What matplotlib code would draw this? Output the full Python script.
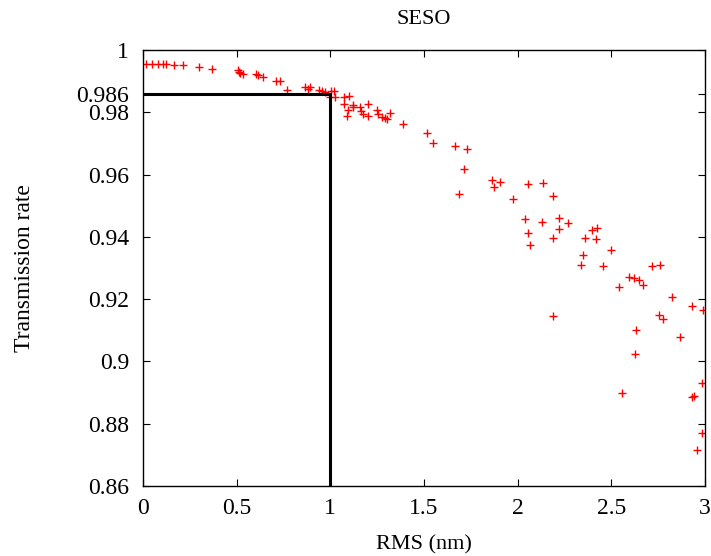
import numpy as np
import matplotlib
matplotlib.use("Agg")
import matplotlib.pyplot as plt

# RMS (nm) and transmission rate
rms = [0.016, 0.046, 0.082, 0.105, 0.122, 0.167, 0.216, 0.298, 0.371,
       0.505, 0.512, 0.520, 0.536, 0.605, 0.613, 0.638, 0.709, 0.729,
       0.770, 0.865, 0.879, 0.892, 0.941, 0.954, 0.973, 1.002, 1.018,
       1.000, 1.023, 1.074, 1.097, 1.073, 1.096, 1.119, 1.122, 1.089,
       1.158, 1.165, 1.172, 1.202, 1.200, 1.248, 1.255, 1.278, 1.291,
       1.305, 1.317, 1.387, 1.514, 1.548, 1.666, 1.732, 1.716, 1.865,
       1.876, 1.908, 1.686, 1.973, 2.055, 2.041, 2.137, 2.188, 2.055,
       2.067, 2.129, 2.218, 2.218, 2.188, 2.270, 2.358, 2.395, 2.426,
       2.417, 2.349, 2.337, 2.454, 2.500, 2.592, 2.621, 2.645, 2.669,
       2.541, 2.716, 2.757, 2.826, 2.933, 2.991, 2.755, 2.775, 2.190,
       2.632, 2.865, 2.628, 2.986, 2.557, 2.929, 2.943, 2.986, 2.956]
trans = [0.9956, 0.9956, 0.9956, 0.9956, 0.9954, 0.9953, 0.9951, 0.9947, 0.9940,
         0.9935, 0.9930, 0.9926, 0.9923, 0.9922, 0.9919, 0.9914, 0.9900, 0.9899,
         0.9871, 0.9881, 0.9876, 0.9881, 0.9873, 0.9867, 0.9864, 0.9867, 0.9869,
         0.9850, 0.9848, 0.9848, 0.9851, 0.9826, 0.9808, 0.9824, 0.9818, 0.9788,
         0.9816, 0.9805, 0.9795, 0.9826, 0.9789, 0.9808, 0.9793, 0.9785, 0.9782,
         0.9777, 0.9797, 0.9762, 0.9734, 0.9702, 0.9692, 0.9683, 0.9617, 0.9584,
         0.9561, 0.9575, 0.9538, 0.9521, 0.9571, 0.9458, 0.9574, 0.9530, 0.9412,
         0.9374, 0.9447, 0.9461, 0.9426, 0.9395, 0.9445, 0.9398, 0.9421, 0.9427,
         0.9394, 0.9343, 0.9309, 0.9307, 0.9357, 0.9270, 0.9268, 0.9263, 0.9247,
         0.9240, 0.9306, 0.9309, 0.9207, 0.9178, 0.9165, 0.9150, 0.9137, 0.9146,
         0.9100, 0.9080, 0.9025, 0.8932, 0.8900, 0.8887, 0.8890, 0.8770, 0.8716]

# marked level
x_mark = 1.0
y_mark = 0.986

yticks = [0.86, 0.88, 0.9, 0.92, 0.94, 0.96, 0.98, 0.986, 1.0]
ytick_labels = ["0.86", "0.88", "0.9", "0.92", "0.94", "0.96", "0.98", "0.986", "1"]
xticks = [0, 0.5, 1, 1.5, 2, 2.5, 3]
xtick_labels = ["0", "0.5", "1", "1.5", "2", "2.5", "3"]

plt.rcParams['font.family'] = ['Liberation Serif', 'DejaVu Serif']
plt.rcParams['font.size'] = 17

fig = plt.figure(figsize=(7.11, 5.56), dpi=100)
ax = fig.add_axes([0.2011, 0.1259, 0.7905, 0.7841])

ax.plot(rms, trans, linestyle='none', marker='+', color='red',
        markersize=6, markeredgewidth=1.0, clip_on=True)
ax.plot([0, x_mark, x_mark], [y_mark, y_mark, 0.86], color='black',
        linewidth=2.2, solid_joinstyle='miter')

ax.set_xlim(0, 3)
ax.set_ylim(0.86, 1.0)
ax.set_xticks(xticks)
ax.set_xticklabels(xtick_labels)
ax.set_yticks(yticks)
ax.set_yticklabels(ytick_labels)
ax.tick_params(direction='in', top=True, right=True, length=5, width=0.8)
ax.tick_params(axis='y', pad=10)
ax.tick_params(axis='x', pad=9)
for s in ax.spines.values():
    s.set_linewidth(1.0)

ax.set_title("SESO", fontsize=16, pad=19)
ax.set_xlabel("RMS (nm)", fontsize=16, labelpad=11)
ax.set_ylabel("Transmission rate", labelpad=30)

fig.savefig("out.png", dpi=100)
